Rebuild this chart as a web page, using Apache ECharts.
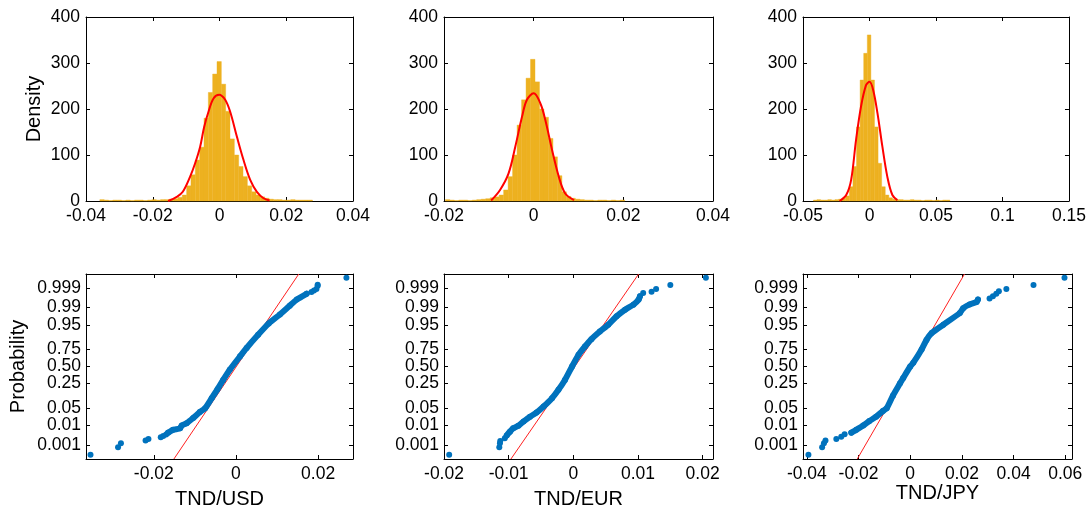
<!DOCTYPE html>
<html>
<head>
<meta charset="utf-8">
<script src="https://cdn.jsdelivr.net/npm/echarts@6/dist/echarts.min.js"></script>
<style>
  html, body { margin: 0; padding: 0; background: #fff; }
  #chart { width: 1089px; height: 510px; }
</style>
</head>
<body>
<div id="chart"></div>
<script>
// ---- Daily returns of the dinar against three currencies ----
const pairNames = ['TND/USD', 'TND/EUR', 'TND/JPY'];

// Histogram heights (density), centre of the first bin and bin width
const usdDensity = [3, 2, 1, 2, 2, 1, 2, 1, 2, 2, 1, 2, 3, 2, 3, 3, 4, 5, 8, 13, 33, 57, 89, 117, 180, 236, 276,
  303, 254, 195, 135, 100, 75, 53, 33, 20, 13, 9, 6, 4, 3, 3, 2, 2, 3, 2, 2, 2, 2];
const usdBinFirst = -0.0352;
const usdBinWidth = 0.0013;

const eurDensity = [3, 2, 1, 2, 2, 1, 2, 3, 4, 5, 7, 9, 13, 24, 53, 100, 165, 220, 267,
  308, 259, 200, 182, 136, 96, 55, 20, 10, 6, 4, 3, 2, 2, 1, 2, 2, 1, 2, 1, 2];
const eurBinFirst = -0.0192;
const eurBinWidth = 0.001;

const jpyDensity = [2, 3, 2, 2, 3, 2, 3, 4, 6, 11, 31, 75, 161, 263, 321,
  361, 263, 161, 82, 31, 13, 7, 4, 3, 3, 2, 2, 3, 2, 2, 1, 2, 2, 1, 2, 1, 2, 2];
const jpyBinFirst = -0.0408;
const jpyBinWidth = 0.0027;

// Fitted density curves [return, density]
const usdFit = [[-0.0154, 0], [-0.0128, 9], [-0.011, 20], [-0.0088, 53], [-0.0073, 82], [-0.0058, 118],
  [-0.0046, 161], [-0.0033, 194], [-0.0018, 223], [-0.0001, 231], [0.0017, 220], [0.0032, 194],
  [0.0052, 140], [0.0072, 89], [0.0092, 46], [0.0112, 20], [0.0132, 6], [0.015, 1]];
const eurFit = [[-0.0095, 1], [-0.0075, 24], [-0.0056, 60], [-0.0041, 118], [-0.0026, 183], [-0.0015, 220],
  [0, 234], [0.0015, 212], [0.0026, 176], [0.0041, 111], [0.0056, 53], [0.007, 17], [0.009, 2]];
const jpyFit = [[-0.0225, 0], [-0.0175, 13], [-0.0138, 46], [-0.0101, 133], [-0.0064, 205], [-0.0026, 252],
  [0, 259], [0.0028, 241], [0.006, 191], [0.0097, 118], [0.0134, 53], [0.0172, 13], [0.021, 2]];

// Normal probability plots [return, normal quantile]: dense body and isolated tail points
const usdQqBody = [[-0.0165, -2.61], [-0.0153, -2.5], [-0.0136, -2.44], [-0.0132, -2.33], [-0.012, -2.24],
  [-0.0104, -2.03], [-0.0088, -1.8], [-0.0075, -1.645], [-0.0059, -1.25], [-0.0045, -0.9], [-0.0031, -0.53],
  [-0.0015, -0.13], [0.001, 0.4], [0.0026, 0.73], [0.0054, 1.25], [0.008, 1.7], [0.0107, 2.05],
  [0.0131, 2.4], [0.0148, 2.64], [0.0172, 2.87]];
const usdQqTail = [[-0.0354, -3.48], [-0.0287, -3.19], [-0.028, -3.03], [-0.022, -2.92], [-0.0213, -2.86],
  [-0.0183, -2.79], [-0.0177, -2.74], [-0.017, -2.68], [0.0184, 2.94], [0.019, 3.0],
  [0.0196, 3.06], [0.0199, 3.19], [0.0199, 3.23], [0.0269, 3.5]];
const usdRefLine = [[-0.0151, -3.65], [0.0153, 3.65]];

const eurQqBody = [[-0.0103, -2.72], [-0.0098, -2.57], [-0.0093, -2.44], [-0.0085, -2.34], [-0.0077, -2.17],
  [-0.0067, -1.98], [-0.0057, -1.82], [-0.0046, -1.58], [-0.0033, -1.25], [-0.0023, -0.92], [-0.0013, -0.53],
  [-0.0002, 0], [0.0008, 0.46], [0.0018, 0.79], [0.0028, 1.08], [0.0041, 1.38], [0.0054, 1.65],
  [0.0067, 1.98], [0.008, 2.24], [0.0093, 2.44], [0.0101, 2.64], [0.0103, 2.77]];
const eurQqTail = [[-0.0192, -3.48], [-0.01145, -3.19], [-0.01135, -3.03], [-0.0113, -2.94], [-0.0106, -2.83],
  [0.0108, 2.9], [0.0121, 2.95], [0.0128, 3.06], [0.015, 3.22], [0.0205, 3.5]];
const eurRefLine = [[-0.00965, -3.65], [0.0101, 3.65]];

const jpyQqBody = [[-0.0228, -2.61], [-0.0209, -2.5], [-0.0182, -2.33], [-0.0158, -2.15], [-0.0132, -1.98],
  [-0.0106, -1.76], [-0.0091, -1.645], [-0.0067, -1.15], [-0.004, -0.674], [-0.0027, -0.45], [0, 0],
  [0.0012, 0.15], [0.0044, 0.674], [0.0063, 1.05], [0.0083, 1.32], [0.0128, 1.65], [0.0192, 2.11],
  [0.0205, 2.3], [0.023, 2.45], [0.0257, 2.55], [0.0262, 2.64]];
const jpyQqTail = [[-0.0394, -3.48], [-0.0341, -3.19], [-0.0334, -3.03], [-0.0328, -2.92], [-0.0286, -2.86],
  [-0.0267, -2.77], [-0.0254, -2.67], [0.0307, 2.68], [0.032, 2.77], [0.0333, 2.87], [0.0343, 2.97],
  [0.0372, 3.06], [0.0477, 3.22], [0.0597, 3.5]];
const jpyRefLine = [[-0.0205, -3.65], [0.021, 3.65]];

// Axis ticks
const histXTicks = [[-0.04, -0.02, 0, 0.02, 0.04], [-0.02, 0, 0.02, 0.04], [-0.05, 0, 0.05, 0.1, 0.15]];
const histXRange = [[-0.04, 0.04], [-0.02, 0.04], [-0.05, 0.15]];
const densityTicks = [0, 100, 200, 300, 400];
const qqXTicks = [[-0.02, 0, 0.02], [-0.02, -0.01, 0, 0.01, 0.02], [-0.04, -0.02, 0, 0.02, 0.04, 0.06]];
const qqXRange = [[-0.0365, 0.0285], [-0.02, 0.0216], [-0.0415, 0.0626]];
const probLabels = ['0.001', '0.01', '0.05', '0.25', '0.50', '0.75', '0.95', '0.99', '0.999'];
const probZ = [-3.09, -2.326, -1.645, -0.674, 0, 0.674, 1.645, 2.326, 3.09];
const qqZRange = [-3.65, 3.65];

// ---- Layout and styles ----
const FONT = '"Liberation Sans", Arial, sans-serif';
const BAR = '#EDB120';
const DOT = '#0072BD';
const grids = [
  { left: 86, top: 17, width: 267, height: 184 },
  { left: 444, top: 17, width: 269, height: 184 },
  { left: 803, top: 17, width: 269, height: 184 },
  { left: 86, top: 274, width: 267, height: 185 },
  { left: 444, top: 274, width: 269, height: 185 },
  { left: 803, top: 274, width: 269, height: 185 }
];

function makeAxis(gridIndex, position, range, ticks, showLabels, extra) {
  return Object.assign({
    type: 'value',
    gridIndex: gridIndex,
    position: position,
    min: range[0],
    max: range[1],
    axisLine: { show: true, onZero: false, lineStyle: { color: '#000', width: 1 } },
    axisTick: { show: true, inside: true, length: 4, customValues: ticks, lineStyle: { color: '#000', width: 1 } },
    axisLabel: {
      show: showLabels, customValues: ticks, color: '#000', fontFamily: FONT, fontSize: 17.5, margin: 6
    },
    splitLine: { show: false }
  }, extra || {});
}

const xAxes = [], yAxes = [], series = [];
const hist = [
  { counts: usdDensity, first: usdBinFirst, width: usdBinWidth, fit: usdFit },
  { counts: eurDensity, first: eurBinFirst, width: eurBinWidth, fit: eurFit },
  { counts: jpyDensity, first: jpyBinFirst, width: jpyBinWidth, fit: jpyFit }
];
const qq = [
  { body: usdQqBody, tail: usdQqTail, ref: usdRefLine },
  { body: eurQqBody, tail: eurQqTail, ref: eurRefLine },
  { body: jpyQqBody, tail: jpyQqTail, ref: jpyRefLine }
];
const nameGapBottom = [30, 30, 22];

// Top row: histograms with fitted density
hist.forEach(function (h, i) {
  const xi = xAxes.length, yi = yAxes.length;
  xAxes.push(makeAxis(i, 'bottom', histXRange[i], histXTicks[i], true));
  xAxes.push(makeAxis(i, 'top', histXRange[i], histXTicks[i], false));
  yAxes.push(makeAxis(i, 'left', [0, 400], densityTicks, true, i === 0 ? {
    name: 'Density', nameLocation: 'middle', nameGap: 42, nameRotate: 90,
    nameTextStyle: { color: '#000', fontFamily: FONT, fontSize: 20 }
  } : {}));
  yAxes.push(makeAxis(i, 'right', [0, 400], densityTicks, false));

  const bins = h.counts.map(function (c, k) { return [h.first + k * h.width, c]; });
  const w = h.width;
  series.push({
    type: 'custom',
    xAxisIndex: xi, yAxisIndex: yi,
    data: bins,
    encode: { x: 0, y: 1 },
    z: 1,
    renderItem: function (params, api) {
      const c = api.value(0), v = api.value(1);
      const p0 = api.coord([c - w / 2, v]);
      const p1 = api.coord([c + w / 2, 0]);
      return {
        type: 'rect',
        shape: { x: p0[0], y: p0[1], width: p1[0] - p0[0], height: p1[1] - p0[1] },
        style: { fill: BAR, stroke: BAR, lineWidth: 0.4 }
      };
    }
  });
  series.push({
    type: 'line',
    xAxisIndex: xi, yAxisIndex: yi,
    data: h.fit,
    smooth: 0.35,
    showSymbol: false,
    z: 3,
    lineStyle: { color: '#FF0000', width: 2 }
  });
});

// Bottom row: normal probability plots
qq.forEach(function (q, i) {
  const g = i + 3;
  const xi = xAxes.length, yi = yAxes.length;
  xAxes.push(makeAxis(g, 'bottom', qqXRange[i], qqXTicks[i], true, {
    name: pairNames[i], nameLocation: 'middle', nameGap: nameGapBottom[i],
    nameTextStyle: { color: '#000', fontFamily: FONT, fontSize: 20, verticalAlign: 'top' }
  }));
  xAxes.push(makeAxis(g, 'top', qqXRange[i], qqXTicks[i], false));
  const yLeft = makeAxis(g, 'left', qqZRange, probZ, true, i === 0 ? {
    name: 'Probability', nameLocation: 'middle', nameGap: 58, nameRotate: 90,
    nameTextStyle: { color: '#000', fontFamily: FONT, fontSize: 20 }
  } : {});
  yLeft.axisLabel.margin = 5;
  yLeft.axisLabel.formatter = function (v) {
    for (let k = 0; k < probZ.length; k++) {
      if (Math.abs(probZ[k] - v) < 1e-6) return probLabels[k];
    }
    return '';
  };
  yAxes.push(yLeft);
  yAxes.push(makeAxis(g, 'right', qqZRange, probZ, false));

  series.push({
    type: 'line',
    xAxisIndex: xi, yAxisIndex: yi,
    data: q.ref,
    showSymbol: false,
    z: 1,
    lineStyle: { color: '#FF2020', width: 1 }
  });
  series.push({
    type: 'line',
    xAxisIndex: xi, yAxisIndex: yi,
    data: q.body,
    smooth: 0.2,
    showSymbol: false,
    z: 2,
    lineStyle: { color: DOT, width: 6, cap: 'round', join: 'round' }
  });
  series.push({
    type: 'scatter',
    xAxisIndex: xi, yAxisIndex: yi,
    data: q.tail.concat(q.body),
    symbolSize: 6,
    z: 3,
    itemStyle: { color: DOT, opacity: 1 }
  });
});

const chart = echarts.init(document.getElementById('chart'), null, { renderer: 'canvas' });
chart.setOption({
  animation: false,
  backgroundColor: '#fff',
  textStyle: { fontFamily: FONT },
  grid: grids,
  xAxis: xAxes,
  yAxis: yAxes,
  series: series
});
</script>
</body>
</html>
